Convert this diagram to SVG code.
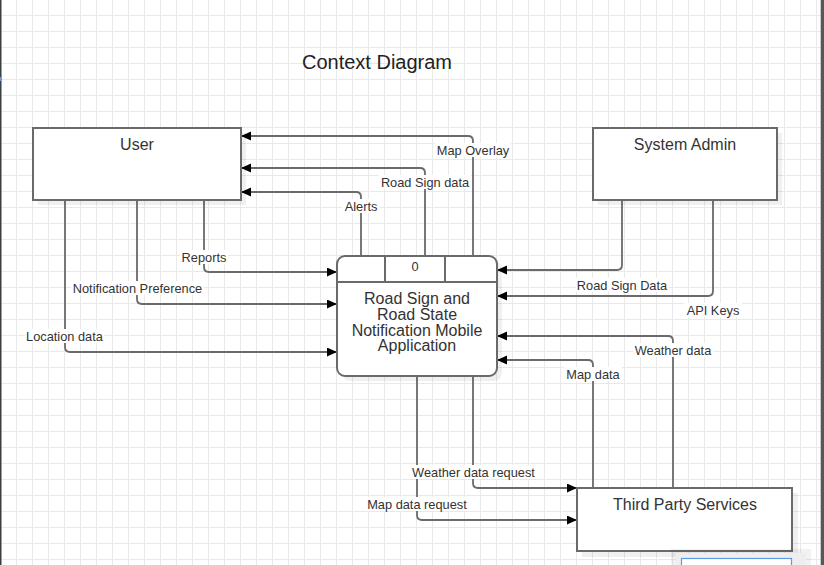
<svg xmlns="http://www.w3.org/2000/svg" width="824" height="565" viewBox="0 0 824 565">
<defs>
<pattern id="grid" x="0" y="-1" width="16" height="16" patternUnits="userSpaceOnUse">
<rect x="0" y="0" width="1" height="16" fill="#e9e9e9"/>
<rect x="0" y="0" width="16" height="1" fill="#e9e9e9"/>
</pattern>
<marker id="arrow" markerWidth="11" markerHeight="10" refX="10" refY="4.5" orient="auto" markerUnits="userSpaceOnUse">
<path d="M0,0 L10,4.5 L0,9 z" fill="#000"/>
</marker>
<style>
.node { fill: #ffffff; stroke: #6a6a6a; stroke-width: 2; }
.shadow { fill: #000; opacity: 0.06; }
.title { font-family: "Liberation Sans", Arial, sans-serif; font-size: 20px; fill: #222; text-anchor: middle; }
.ntext { font-family: "Liberation Sans", Arial, sans-serif; font-size: 16px; fill: #333; text-anchor: middle; }
.elabel { font-family: "Liberation Sans", Arial, sans-serif; font-size: 12.8px; fill: #333; text-anchor: middle; }
.lbg { fill: #ffffff; }
.edge { fill: none; stroke: #6a6a6a; stroke-width: 1.8; marker-end: url(#arrow); }
</style>
</defs>
<rect x="0" y="0" width="824" height="565" fill="#ffffff"/>
<rect x="0" y="0" width="824" height="565" fill="url(#grid)"/>
<rect x="0" y="0" width="1.5" height="565" fill="#3a3f44"/>
<rect x="0" y="77" width="1.5" height="4" fill="#6a9ad0"/>
<rect x="820.7" y="0" width="3.3" height="565" fill="#575757"/>

<text class="title" x="377" y="69">Context Diagram</text>

<g id="connectors">
<path class="edge" d="M204,200 V267 Q204,272 209,272 H337"/>
<path class="edge" d="M137,200 V299 Q137,304 142,304 H337"/>
<path class="edge" d="M65,200 V347 Q65,352 70,352 H337"/>
<path class="edge" d="M361,256 V197 Q361,192 356,192 H241"/>
<path class="edge" d="M425,256 V173 Q425,168 420,168 H241"/>
<path class="edge" d="M473,256 V141 Q473,136 468,136 H241"/>
<path class="edge" d="M622,200 V265 Q622,270 617,270 H497"/>
<path class="edge" d="M713,200 V291 Q713,296 708,296 H497"/>
<path class="edge" d="M673,488 V341 Q673,336 668,336 H497"/>
<path class="edge" d="M593,488 V365 Q593,360 588,360 H497"/>
<path class="edge" d="M473,376 V483 Q473,488 478,488 H577"/>
<path class="edge" d="M417,376 V515 Q417,520 422,520 H577"/>

<rect class="lbg" x="180" y="250" width="48" height="14"/>
<text class="elabel" x="204" y="262">Reports</text>
<rect class="lbg" x="71" y="281" width="133" height="14"/>
<text class="elabel" x="137.5" y="293">Notification Preference</text>
<rect class="lbg" x="25" y="329" width="79" height="14"/>
<text class="elabel" x="64.5" y="341">Location data</text>
<rect class="lbg" x="342" y="199" width="38" height="14"/>
<text class="elabel" x="361" y="211">Alerts</text>
<rect class="lbg" x="379" y="175" width="92" height="14"/>
<text class="elabel" x="425" y="187">Road Sign data</text>
<rect class="lbg" x="435" y="143" width="76" height="14"/>
<text class="elabel" x="473" y="155">Map Overlay</text>
<rect class="lbg" x="576" y="278" width="92" height="14"/>
<text class="elabel" x="622" y="290">Road Sign Data</text>
<rect class="lbg" x="684" y="303" width="58" height="14"/>
<text class="elabel" x="713" y="315">API Keys</text>
<rect class="lbg" x="633" y="343" width="80" height="14"/>
<text class="elabel" x="673" y="355">Weather data</text>
<rect class="lbg" x="564" y="367" width="58" height="14"/>
<text class="elabel" x="593" y="379">Map data</text>
<rect class="lbg" x="410" y="465" width="127" height="14"/>
<text class="elabel" x="473.5" y="477">Weather data request</text>
<rect class="lbg" x="366" y="497" width="102" height="14"/>
<text class="elabel" x="417" y="509">Map data request</text>
</g>

<g id="user">
<rect class="shadow" x="38" y="133" width="208" height="72"/>
<rect class="node" x="33" y="128" width="208" height="72"/>
<text class="ntext" x="137" y="150">User</text>
</g>

<g id="system-admin">
<rect class="shadow" x="598" y="133" width="184" height="72"/>
<rect class="node" x="593" y="128" width="184" height="72"/>
<text class="ntext" x="685" y="150">System Admin</text>
</g>

<g id="third-party">
<rect class="shadow" x="582" y="493" width="216" height="64"/>
<rect class="node" x="577" y="488" width="215" height="63"/>
<text class="ntext" x="685" y="510">Third Party Services</text>
</g>

<g id="process">
<rect class="shadow" x="342" y="261" width="160" height="120" rx="8"/>
<rect class="node" x="337" y="256" width="160" height="120" rx="8"/>
<line x1="337" y1="282" x2="497" y2="282" stroke="#6a6a6a" stroke-width="2"/>
<rect x="385" y="256" width="60" height="26" fill="none" stroke="#6a6a6a" stroke-width="2"/>
<text class="elabel" x="415" y="271">0</text>
<text class="ntext" x="417" y="304">Road Sign and</text>
<text class="ntext" x="417" y="320">Road State</text>
<text class="ntext" x="417" y="335.5">Notification Mobile</text>
<text class="ntext" x="417" y="351">Application</text>
</g>

<rect x="671" y="549" width="140" height="16" fill="#000" opacity="0.05"/>
<rect x="676" y="553" width="130" height="12" fill="#eeeeee"/>
<rect x="681.5" y="558.5" width="110" height="10" fill="#ffffff" stroke="#5b9be8" stroke-width="1.2"/>
</svg>
